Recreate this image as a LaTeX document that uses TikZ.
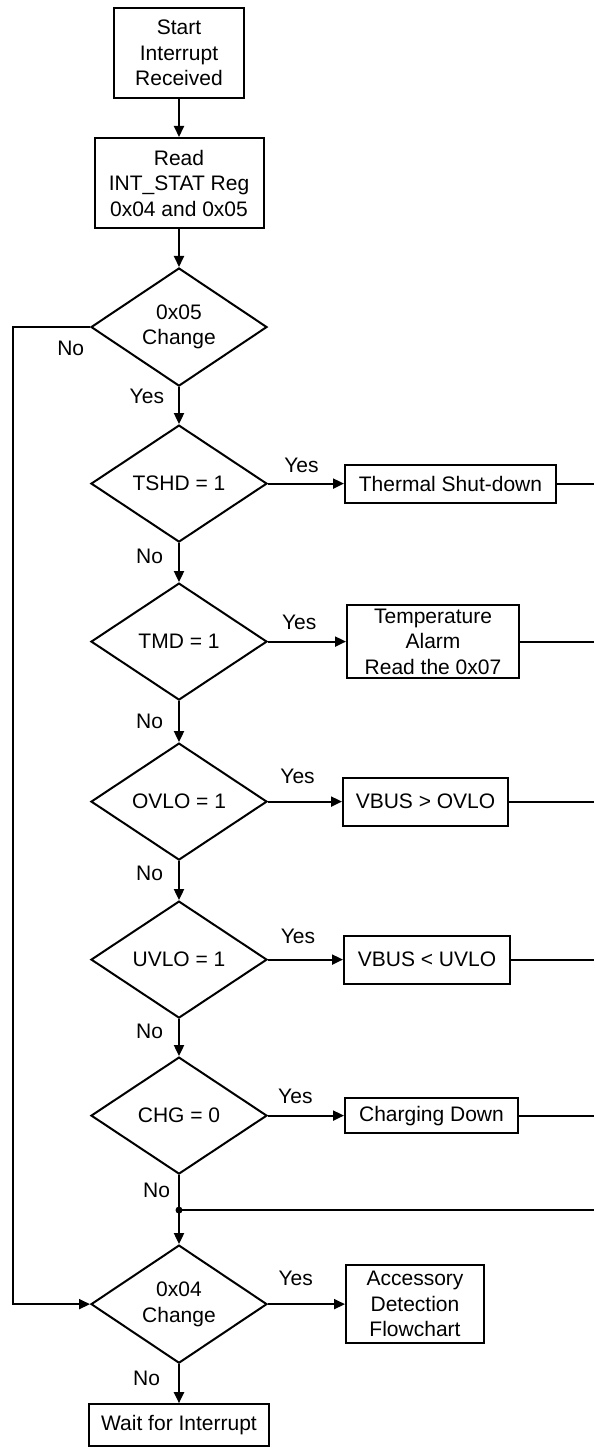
\documentclass[tikz,border=0pt]{standalone}
\usepackage{fontspec}
\newfontfamily\flowfont{Liberation Sans}
\newcommand{\flowtext}{\flowfont\fontsize{21}{25.5}\selectfont}
\usetikzlibrary{arrows.meta, positioning, shapes.geometric, calc}
\tikzset{
	procbox/.style={rectangle, draw=black, line width=2pt, align=center, inner sep=2pt, font=\flowtext},
	decision/.style={diamond, draw=black, line width=2pt, align=center, minimum width=176pt, minimum height=117pt, inner sep=0pt, font=\flowtext},
	arrow/.style={-{Triangle[length=11pt, width=10pt]}, line width=2pt},
	plainline/.style={line width=2pt},
	lbl/.style={font=\flowtext, inner sep=0pt},
}

\begin{document}
\begin{tikzpicture}[x=1pt, y=-1pt]
	\useasboundingbox (0,0) rectangle (594,1450);
	% main column
	\node[procbox, minimum width=130pt, minimum height=90pt] (start) at (179,53) {Start\\Interrupt\\Received};
	\node[procbox, minimum width=169pt, minimum height=90pt, below=38pt of start] (readreg) {Read\\INT\_STAT Reg\\0x04 and 0x05};
	\node[decision, below=38pt of readreg] (chk05) {0x05\\Change};
	\node[decision, below=37pt of chk05] (tshd) {TSHD = 1};
	\node[decision, below=39pt of tshd] (tmd) {TMD = 1};
	\node[decision, below=41pt of tmd] (ovlo) {OVLO = 1};
	\node[decision, below=39pt of ovlo] (uvlo) {UVLO = 1};
	\node[decision, below=37pt of uvlo] (chg) {CHG = 0};
	\node[decision, below=69pt of chg] (chk04) {0x04\\Change};
	\node[procbox, minimum width=180pt, minimum height=42pt, below=39pt of chk04] (wait) {Wait for Interrupt};
	% action boxes
	\node[procbox, minimum width=211pt, minimum height=38pt, right=76pt of tshd] (thermal) {Thermal Shut-down};
	\node[procbox, minimum width=172pt, minimum height=73pt, right=78pt of tmd] (tempalarm) {Temperature\\Alarm\\Read the 0x07};
	\node[procbox, minimum width=165pt, minimum height=48pt, right=74pt of ovlo] (vbusover) {VBUS > OVLO};
	\node[procbox, minimum width=166pt, minimum height=48pt, right=75pt of uvlo] (vbusunder) {VBUS < UVLO};
	\node[procbox, minimum width=173pt, minimum height=35pt, right=76pt of chg] (chgdown) {Charging Down};
	\node[procbox, minimum width=138pt, minimum height=78pt, right=77pt of chk04] (accdet) {Accessory\\Detection\\Flowchart};
	% helper coordinates
	\coordinate (redge) at (594,0);
	\coordinate (ledge) at (13,0);
	\coordinate[below=35pt of chg.south] (junc);
	% connectors
	\draw[arrow] (start) -- (readreg);
	\draw[arrow] (readreg) -- (chk05);
	\draw[arrow] (chk05) -- node[lbl, pos=0.26, left=14pt] {Yes} (tshd);
	\draw[arrow] (chk05.west) -- node[lbl, pos=0.25, below=13pt] {No} (chk05.west -| ledge) |- (chk04.west);
	\draw[arrow] (tshd) -- node[lbl, pos=0.35, left=15pt] {No} (tmd);
	\draw[arrow] (tmd) -- node[lbl, pos=0.5, left=15pt] {No} (ovlo);
	\draw[arrow] (ovlo) -- node[lbl, pos=0.32, left=15pt] {No} (uvlo);
	\draw[arrow] (uvlo) -- node[lbl, pos=0.32, left=15pt] {No} (chg);
	\draw[plainline] (chg) -- node[lbl, pos=0.43, left=8pt] {No} (junc);
	\draw[arrow] (junc) -- (chk04);
	\draw[arrow] (chk04) -- node[lbl, pos=0.36, left=18pt] {No} (wait);
	\draw[arrow] (tshd) -- node[lbl, pos=0.44, above=10pt] {Yes} (thermal);
	\draw[arrow] (tmd) -- node[lbl, pos=0.4, above=11pt] {Yes} (tempalarm);
	\draw[arrow] (ovlo) -- node[lbl, pos=0.4, above=17pt] {Yes} (vbusover);
	\draw[arrow] (uvlo) -- node[lbl, pos=0.4, above=15pt] {Yes} (vbusunder);
	\draw[arrow] (chg) -- node[lbl, pos=0.36, above=11pt] {Yes} (chgdown);
	\draw[arrow] (chk04) -- node[lbl, pos=0.36, above=17pt] {Yes} (accdet);
	\draw[plainline] (thermal.east) -- (thermal.east -| redge);
	\draw[plainline] (tempalarm.east) -- (tempalarm.east -| redge);
	\draw[plainline] (vbusover.east) -- (vbusover.east -| redge);
	\draw[plainline] (vbusunder.east) -- (vbusunder.east -| redge);
	\draw[plainline] (chgdown.east) -- (chgdown.east -| redge);
	\draw[plainline] (junc) -- (junc -| redge);
	\fill (junc) circle (3.5pt);
\end{tikzpicture}
\end{document}
